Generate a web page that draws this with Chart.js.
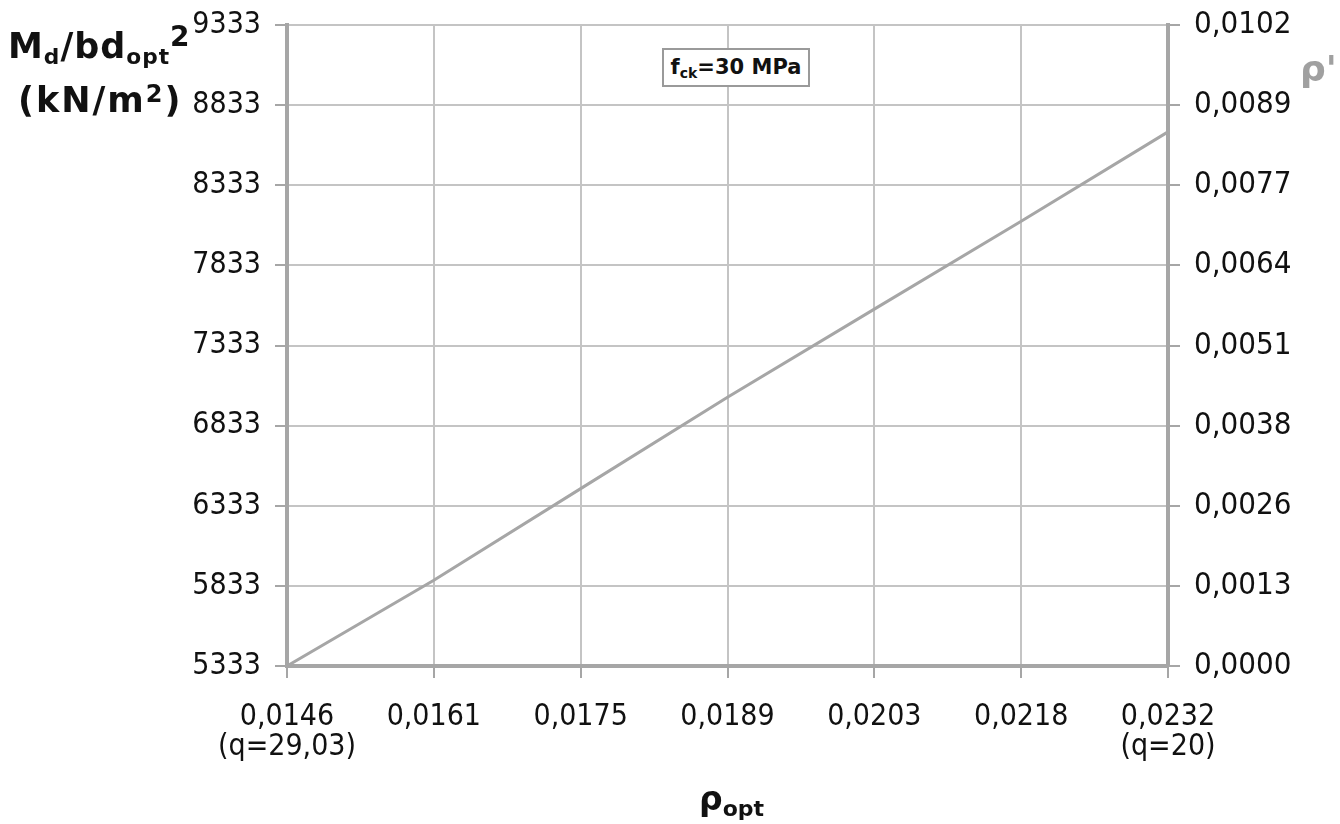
<!DOCTYPE html>
<html>
<head>
<meta charset="utf-8">
<script src="https://cdn.jsdelivr.net/npm/chart.js@4"></script>
<style>
  body { margin: 0; background: #fff; }
  #wrap { position: relative; width: 1340px; height: 824px; }
  .lbl { position: absolute; font-family: 'DejaVu Sans', sans-serif; font-weight: bold; color: #111; white-space: nowrap; line-height: 1; }
  .sm { font-size: 0.62em; }
  #ytitle1 { left: 8px; top: 29px; font-size: 35px; letter-spacing: 1px; }
  #ytitle2 { left: 18px; top: 83px; font-size: 35px; letter-spacing: 2px; }
  #y2title { left: 1300px; top: 51px; font-size: 36px; color: #a0a0a0; }
  #xtitle { left: 699px; top: 782px; font-size: 33px; }
  #fck { left: 662px; top: 48px; width: 144px; height: 35px; background: #fff; border: 2px solid #9a9a9a;
         font-size: 21px; display: flex; align-items: center; justify-content: center; }
</style>
</head>
<body>
<div id="wrap">
  <canvas id="grafica"></canvas>
  <div class="lbl" id="ytitle1">M<span class="sm" style="position:relative;top:6px">d</span>/bd<span class="sm" style="position:relative;top:6px">opt</span><span style="position:relative;top:-12px;font-size:28px">2</span></div>
  <div class="lbl" id="ytitle2">(kN/m<span style="position:relative;top:-10px;font-size:24px">2</span>)</div>
  <div class="lbl" id="y2title">ρ'</div>
  <div class="lbl" id="xtitle">ρ<span style="font-size:22px;position:relative;top:6px">opt</span></div>
  <div class="lbl" id="fck">f<span style="font-size:14px;position:relative;top:5px">ck</span>=30 MPa</div>
</div>
<script>
// valores de rho_opt (eje x) y momento reducido (eje izquierdo)
const rhoLabels = [['0,0146', '(q=29,03)'], '0,0161', '0,0175', '0,0189', '0,0203', '0,0218', ['0,0232', '(q=20)']];
const momentos = [5333, 5868, 6440, 7010, 7560, 8108, 8666];
const momentoTicks = [5333, 5833, 6333, 6833, 7333, 7833, 8333, 8833, 9333];
const rhoPrimaTicks = ['0,0000', '0,0013', '0,0026', '0,0038', '0,0051', '0,0064', '0,0077', '0,0089', '0,0102'];

const fuente = "'DejaVu Sans Condensed', 'DejaVu Sans', sans-serif";
const gris = '#a6a6a6';
const grisGrid = '#c4c4c4';

// ejes verticales de ancho fijo, sin margen extra por las etiquetas
const ajustarVertical = ancho => s => {
  s.width = ancho;
  s.paddingTop = 0;
  s.paddingBottom = 0;
};

const ctx = document.getElementById('grafica').getContext('2d');

new Chart(ctx, {
  type: 'line',
  data: {
    labels: rhoLabels,
    datasets: [
      {
        label: 'Md/bd²',
        data: momentos,
        borderColor: gris,
        borderWidth: 3,
        pointRadius: 0,
        tension: 0,
        yAxisID: 'y'
      }
    ]
  },
  options: {
    responsive: true,
    maintainAspectRatio: false,
    animation: false,
    layout: { padding: { top: 25, left: 0, right: 0, bottom: 0 } },
    plugins: {
      legend: { display: false },
      tooltip: { enabled: false }
    },
    scales: {
      x: {
        type: 'category',
        offset: false,
        grid: { color: grisGrid, lineWidth: 2, tickLength: 12, tickColor: gris, offset: false },
        border: { color: gris, width: 4 },
        ticks: {
          autoSkip: false,
          maxRotation: 0,
          padding: 24,
          color: '#111',
          font: { family: fuente, size: 30, lineHeight: 1.0 }
        },
        afterFit: s => { s.height = 158; s.paddingLeft = 0; s.paddingRight = 0; }
      },
      y: {
        position: 'left',
        min: 5333,
        max: 9333,
        grid: { color: grisGrid, lineWidth: 2, tickLength: 12, tickColor: gris },
        border: { color: gris, width: 4 },
        afterBuildTicks: s => { s.ticks = momentoTicks.map(v => ({ value: v })); },
        ticks: {
          padding: 14,
          color: '#111',
          font: { family: fuente, size: 30 },
          callback: v => String(v)
        },
        afterFit: ajustarVertical(287)
      },
      y2: {
        position: 'right',
        min: 0,
        max: rhoPrimaTicks.length - 1,
        grid: { drawOnChartArea: false, tickLength: 12, tickColor: gris, lineWidth: 2 },
        border: { color: gris, width: 4 },
        ticks: {
          stepSize: 1,
          padding: 14,
          color: '#111',
          font: { family: fuente, size: 31 },
          callback: (v, i) => rhoPrimaTicks[i]
        },
        afterFit: ajustarVertical(172)
      }
    }
  }
});
</script>
</body>
</html>
